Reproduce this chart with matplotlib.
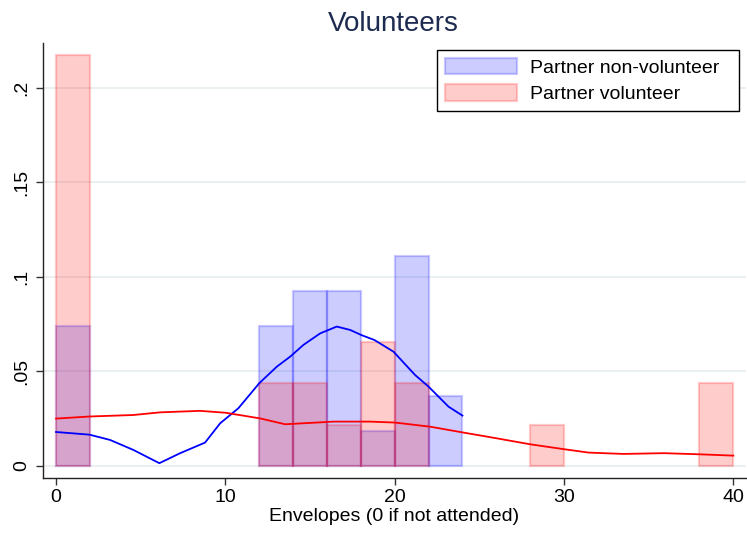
import matplotlib
matplotlib.use("Agg")
import matplotlib.pyplot as plt
import numpy as np

plt.rcParams["font.family"] = ["Liberation Sans", "DejaVu Sans"]

# Histogram bins (left edges, width 2) and counts per group
bin_width = 2
nonvol_bins = [0, 12, 14, 16, 18, 20, 22]
nonvol_counts = [4, 4, 5, 5, 1, 6, 2]
vol_bins = [0, 12, 14, 16, 18, 20, 28, 38]
vol_counts = [10, 2, 2, 1, 3, 2, 1, 2]

# Kernel density estimates
nonvol_kx = [0, 1.97, 3.19, 4.57, 6.1, 7.33, 8.8, 9.69, 10.77, 12.0, 13.04, 13.83,
             14.61, 15.6, 16.58, 17.37, 18.06, 18.8, 19.93, 21.2, 22.0, 23.18, 24.0]
nonvol_ky = [0.0178, 0.0164, 0.0136, 0.0083, 0.0013, 0.0066, 0.0122, 0.0224, 0.0304,
             0.0436, 0.0524, 0.0577, 0.0639, 0.0700, 0.0736, 0.0718, 0.0690, 0.0665,
             0.0603, 0.0480, 0.0418, 0.0312, 0.0265]
vol_kx = [0, 1.97, 4.57, 6.14, 8.5, 10.0, 12.05, 13.53, 16.4, 18.55, 20.02, 22.1,
          24.06, 26.0, 28.0, 30.0, 31.46, 33.5, 35.9, 38.0, 40.0]
vol_ky = [0.0249, 0.0260, 0.0268, 0.0282, 0.0290, 0.0280, 0.0250, 0.0219, 0.0233,
          0.0233, 0.0228, 0.0206, 0.0175, 0.0145, 0.0113, 0.0087, 0.0069, 0.0062,
          0.0066, 0.0060, 0.0053]

labels = ["Partner non-volunteer", "Partner volunteer"]
xticks = [0, 10, 20, 30, 40]
yticks = [0, 0.05, 0.1, 0.15, 0.2]
ytick_labels = ["0", ".05", ".1", ".15", ".2"]

blue_a = (0, 0, 1, 0.2)
red_a = (1, 0, 0, 0.2)

fig = plt.figure(figsize=(7.47, 5.34), dpi=100)
ax = fig.add_axes([0.0576, 0.1043, 0.9411, 0.8157])

nonvol_density = np.array(nonvol_counts) / (sum(nonvol_counts) * bin_width)
vol_density = np.array(vol_counts) / (sum(vol_counts) * bin_width)

ax.bar(nonvol_bins, nonvol_density, width=bin_width, align="edge",
       facecolor=blue_a, edgecolor=blue_a, linewidth=1.6, label=labels[0], zorder=2)
ax.bar(vol_bins, vol_density, width=bin_width, align="edge",
       facecolor=red_a, edgecolor=red_a, linewidth=1.6, label=labels[1], zorder=2)

ax.plot(nonvol_kx, nonvol_ky, color=(0, 0, 1), linewidth=1.3, zorder=3)
ax.plot(vol_kx, vol_ky, color=(1, 0, 0), linewidth=1.3, zorder=3)

ax.set_xlim(-0.77, 40.75)
ax.set_ylim(-0.0067, 0.2238)
ax.set_xticks(xticks)
ax.set_yticks(yticks)
ax.set_yticklabels(ytick_labels, rotation=90, va="center")
ax.tick_params(axis="both", labelsize=14, length=5, width=1, color="#333333")
ax.tick_params(axis="y", pad=4)
ax.tick_params(axis="x", pad=3)

ax.grid(axis="y", color="#e6eef0", linewidth=1.2, zorder=0)
ax.set_axisbelow(True)
for side in ("top", "right"):
    ax.spines[side].set_visible(False)
for side in ("left", "bottom"):
    ax.spines[side].set_color("#222222")
    ax.spines[side].set_linewidth(1.0)

ax.set_xlabel("Envelopes (0 if not attended)", fontsize=14, labelpad=1)
fig.text(0.526, 0.955, "Volunteers", fontsize=20, color="#1c2b4f",
         ha="center", va="center")

leg = ax.legend(loc="upper left", bbox_to_anchor=(0.5605, 0.983, 0.4296, 0.0),
                mode="expand", borderaxespad=0,
                fontsize=14, fancybox=False, edgecolor="black", framealpha=1,
                handlelength=3.7, handleheight=0.9, handletextpad=0.7,
                labelspacing=0.4, borderpad=0.4)
leg.get_frame().set_linewidth(1.0)

fig.savefig("out.png", dpi=100)
